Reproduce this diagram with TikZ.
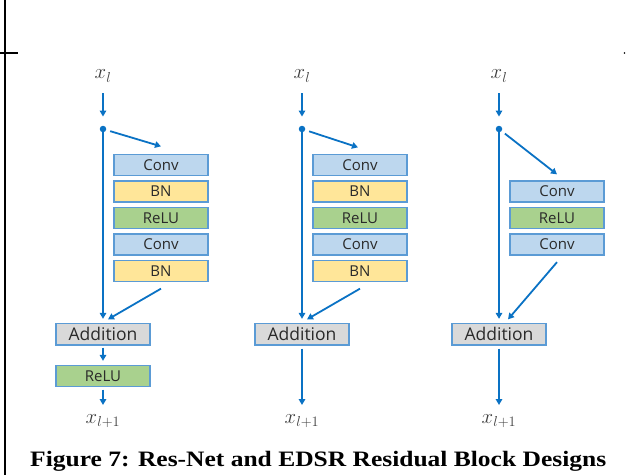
\documentclass[tikz,border=0pt]{standalone}
\usepackage{fontspec}
\setmainfont{Liberation Serif}
\newfontfamily\boxfont{Open Sans}
\usetikzlibrary{arrows.meta,calc}

\definecolor{flowc}{HTML}{0A72C4}
\definecolor{edgec}{HTML}{5B9BD5}
\definecolor{convfill}{HTML}{BDD7EE}
\definecolor{bnfill}{HTML}{FFE699}
\definecolor{relufill}{HTML}{A9D18E}
\definecolor{addfill}{HTML}{D9D9D9}
\definecolor{ink}{HTML}{2A2A2A}

\tikzset{
  layer/.style={draw=edgec, line width=1.3pt, minimum width=94pt, minimum height=21pt,
    inner sep=0pt, text=ink, font=\boxfont\fontsize{15}{15}\selectfont},
  convbox/.style={layer, fill=convfill},
  bnbox/.style={layer, fill=bnfill},
  relubox/.style={layer, fill=relufill},
  addbox/.style={layer, fill=addfill, minimum height=21.5pt,
    font=\boxfont\fontsize{17.5}{17.5}\selectfont},
  link/.style={draw=flowc, line width=1.8pt, -{Triangle[length=6pt,width=6.5pt]}},
  junction/.style={circle, fill=flowc, inner sep=0pt, minimum size=6.5pt},
  lbl/.style={text=ink!90, font=\fontsize{21}{21}\selectfont, inner sep=0pt},
}

\begin{document}
\begin{tikzpicture}[x=1pt, y=-1pt]
\useasboundingbox (0,0) rectangle (626,475);

% page frame remnants
\draw[line width=1.5pt] (5,0) -- (5,475);
\draw[line width=1.3pt] (0,53) -- (18,53);
\fill (624.5,53) circle (0.8);

% ---------- ResNet block ----------
\node[lbl] (in1) at (103,76) {$x_l$};
\coordinate (in1s) at (103,93);
\node[junction] (j1) at (103,129) {};
\node[convbox] (c1a) at (161,165) {Conv};
\node[bnbox]   (c1b) at (161,191.5) {BN};
\node[relubox] (c1c) at (161,218) {ReLU};
\node[convbox] (c1d) at (161,244.5) {Conv};
\node[bnbox]   (c1e) at (161,271) {BN};
\node[addbox]  (add1) at (103,334.25) {Addition};
\node[relubox] (r1) at (103,376) {ReLU};
\node[lbl] (out1) at (103,421) {$x_{l+1}$};

\draw[link, shorten >=9pt] (in1s) -- (j1);
\draw[link, shorten <=4pt] (j1) -- ([yshift=7.5pt]c1a.north);
\draw[link, shorten >=4pt] (j1) -- (add1.north);
\draw[link] ([yshift=-6.5pt]c1e.south) -- ([xshift=5pt,yshift=3.5pt]add1.north);
\draw[link, shorten <=2pt, shorten >=4pt] (add1) -- (r1);
\draw[link, shorten <=2.5pt] (r1.south) -- ([yshift=16pt]out1.center);

% ---------- EDSR-style block with BN ----------
\node[lbl] (in2) at (302,76) {$x_l$};
\coordinate (in2s) at (302,93);
\node[junction] (j2) at (302,129) {};
\node[convbox] (c2a) at (360,165) {Conv};
\node[bnbox]   (c2b) at (360,191.5) {BN};
\node[relubox] (c2c) at (360,218) {ReLU};
\node[convbox] (c2d) at (360,244.5) {Conv};
\node[bnbox]   (c2e) at (360,271) {BN};
\node[addbox]  (add2) at (302,334.25) {Addition};
\node[lbl] (out2) at (302,421) {$x_{l+1}$};

\draw[link, shorten >=9pt] (in2s) -- (j2);
\draw[link, shorten <=4pt] (j2) -- ([xshift=-2pt,yshift=6.5pt]c2a.north);
\draw[link, shorten >=4pt] (j2) -- (add2.north);
\draw[link] ([yshift=-6.5pt]c2e.south) -- ([xshift=5pt,yshift=3.5pt]add2.north);
\draw[link, shorten <=3pt] (add2.south) -- ([yshift=16pt]out2.center);

% ---------- EDSR block ----------
\node[lbl] (in3) at (499,76) {$x_l$};
\coordinate (in3s) at (499,93);
\node[junction] (j3) at (499,129) {};
\node[convbox] (c3a) at (557,191.5) {Conv};
\node[relubox] (c3b) at (557,218) {ReLU};
\node[convbox] (c3c) at (557,244.5) {Conv};
\node[addbox]  (add3) at (499,334.25) {Addition};
\node[lbl] (out3) at (499,421) {$x_{l+1}$};

\draw[link, shorten >=9pt] (in3s) -- (j3);
\draw[link, shorten <=4pt] (j3) -- ([yshift=6pt]c3a.north);
\draw[link, shorten >=4pt] (j3) -- (add3.north);
\draw[link] ([yshift=-6.5pt]c3c.south) -- ([xshift=9pt,yshift=3.5pt]add3.north);
\draw[link, shorten <=3pt] (add3.south) -- ([yshift=16pt]out3.center);

% caption, stretched to the width of the figure
\node[anchor=base west, inner sep=0pt, font=\bfseries\fontsize{22}{22}\selectfont] (cap) at (30,466)
  {\resizebox{576pt}{\height}{Figure 7: Res-Net and EDSR Residual Block Designs}};
\end{tikzpicture}
\end{document}
